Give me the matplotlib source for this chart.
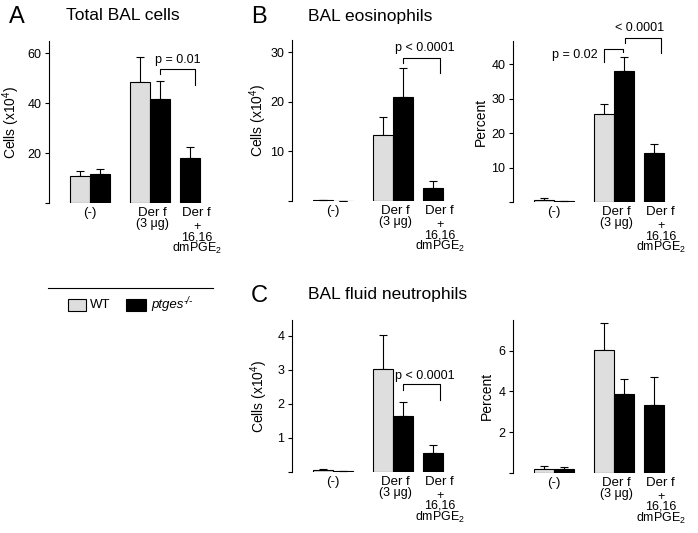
import matplotlib
matplotlib.use("Agg")
import matplotlib.pyplot as plt
from matplotlib.patches import Rectangle
from matplotlib.lines import Line2D

plt.rcParams['font.family'] = ['Liberation Sans', 'DejaVu Sans']
plt.rcParams['mathtext.fontset'] = 'custom'
plt.rcParams['mathtext.rm'] = 'Liberation Sans'
plt.rcParams['mathtext.it'] = 'Liberation Sans:italic'

# bar order: (-) WT, (-) ptges-/-, Der f WT, Der f ptges-/-, Der f + dmPGE2 ptges-/-
x_pos = [0, 1, 3, 4, 5.5]
is_wt = [True, False, True, False, False]

total_cells = [10.9, 11.5, 48.4, 41.7, 18.0]
total_err = [2.0, 2.0, 10.1, 7.1, 4.3]

eos_cells = [0.2, 0.1, 13.3, 20.9, 2.7]
eos_err = [0.1, 0.0, 3.7, 5.9, 1.3]

eos_pct = [0.6, 0.2, 25.6, 38.1, 14.2]
eos_pct_err = [0.6, 0.0, 3.0, 4.1, 2.7]

neu_cells = [0.05, 0.02, 3.02, 1.64, 0.56]
neu_err = [0.03, 0.0, 1.0, 0.42, 0.22]

neu_pct = [0.17, 0.17, 6.04, 3.88, 3.35]
neu_pct_err = [0.16, 0.13, 1.32, 0.72, 1.38]

GREY = '#dedede'
W, H = 698, 533
AX_W = 161  # pixels

fig = plt.figure(figsize=(W / 100, H / 100), dpi=100)


def make_axes(left, zero_y, top_y, ytop, yticks, ylabel, lab_x):
    ax = fig.add_axes([left / W, 1 - zero_y / H, AX_W / W, (zero_y - top_y) / H])
    ax.set_xlim(-1.55, 6.5)
    ax.set_ylim(0, ytop)
    for s in ['top', 'right', 'bottom']:
        ax.spines[s].set_visible(False)
    ax.spines['left'].set_linewidth(0.8)
    ax.set_xticks([])
    ax.set_yticks(yticks)
    ax.set_yticklabels([''] + [str(t) for t in yticks[1:]])
    ax.tick_params(axis='y', direction='out', length=3, width=0.8, labelsize=9, pad=2.5)
    ax.set_ylabel(ylabel, fontsize=10)
    ax.yaxis.set_label_coords(lab_x, 0.5)
    return ax


def draw_bars(ax, vals, errs):
    colors = [GREY if w else 'black' for w in is_wt]
    ax.bar(x_pos, vals, width=1.0, color=colors, edgecolor='black', linewidth=0.8, zorder=2)
    ax.errorbar(x_pos, vals, yerr=[[0] * len(errs), errs], fmt='none', ecolor='black',
                elinewidth=0.8, capsize=3, capthick=0.8, zorder=1)


def xlabels(ax):
    def put(x, s, dy_px, size, **kw):
        ax.annotate(s, xy=(x, 0), xycoords='data', xytext=(0, -dy_px / 1.389),
                    textcoords='offset points', ha='center', va='baseline',
                    fontsize=size, annotation_clip=False, **kw)
    put(0.5, '(-)', 13, 9.5)
    put(3.6, 'Der f', 13, 9.5)
    put(3.6, '(3 \u03bcg)', 24, 9)
    put(5.8, 'Der f', 13, 9.5)
    # multi-line label: baseline refers to the last line
    put(5.85, '+\n16,16\ndmPGE$_2$', 49, 9, linespacing=0.8, multialignment='center')


def bracket(ax, x1, x2, y, y1, y2, label, tx, ty, ha='center'):
    ax.add_line(Line2D([x1, x1, x2, x2], [y1, y, y, y2], color='black', lw=0.8, clip_on=False))
    ax.text(tx, ty, label, ha=ha, va='center', fontsize=9, clip_on=False)


# panel A
axA = make_axes(49, 203, 41, 64.8, [0, 20, 40, 60], 'Cells (x10$^4$)', -0.17)
draw_bars(axA, total_cells, total_err)
xlabels(axA)
bracket(axA, 4.0, 5.75, 53.5, 51.6, 47.2, 'p = 0.01', 4.9, 57.2)

# panel B
axB1 = make_axes(292, 201, 40, 32.5, [0, 10, 20, 30], 'Cells (x10$^4$)', -0.14)
draw_bars(axB1, eos_cells, eos_err)
xlabels(axB1)
bracket(axB1, 4.0, 5.85, 28.9, 27.9, 25.9, 'p < 0.0001', 5.1, 30.9)

axB2 = make_axes(513, 202, 41, 46.8, [0, 10, 20, 30, 40], 'Percent', -0.155)
draw_bars(axB2, eos_pct, eos_pct_err)
xlabels(axB2)
bracket(axB2, 3.0, 3.95, 44.4, 40.7, 43.6, 'p = 0.02', 2.7, 42.7, ha='right')
bracket(axB2, 4.05, 5.85, 47.7, 46.2, 43.3, '< 0.0001', 4.8, 50.6)

# panel C
axC1 = make_axes(292, 471.7, 320, 4.46, [0, 1, 2, 3, 4], 'Cells (x10$^4$)', -0.135)
draw_bars(axC1, neu_cells, neu_err)
xlabels(axC1)
bracket(axC1, 4.0, 5.85, 2.57, 2.40, 2.11, 'p < 0.0001', 5.1, 2.81)

axC2 = make_axes(513, 472.7, 320, 7.52, [0, 2, 4, 6], 'Percent', -0.12)
draw_bars(axC2, neu_pct, neu_pct_err)
xlabels(axC2)


# panel letters and titles
def ftext(xp, yp, s, size, **kw):
    return fig.text(xp / W, 1 - yp / H, s, fontsize=size, ha='left', va='center', **kw)


ftext(9, 17, 'A', 17)
ftext(66, 16, 'Total BAL cells', 12.5)
ftext(251, 17, 'B', 17)
ftext(308, 16, 'BAL eosinophils', 12.5)
ftext(251, 296, 'C', 17)
ftext(308, 295, 'BAL fluid neutrophils', 12.5)

# legend
fig.add_artist(Line2D([48 / W, 213 / W], [1 - 288 / H, 1 - 288 / H], color='black', lw=0.8))
fig.add_artist(Rectangle((68 / W, 1 - 311 / H), 18 / W, 12 / H, facecolor=GREY,
                         edgecolor='black', lw=0.8))
fig.add_artist(Rectangle((126 / W, 1 - 311 / H), 20 / W, 12 / H, facecolor='black',
                         edgecolor='black', lw=0.8))
ftext(90, 305, 'WT', 9.5)
t_pt = ftext(151, 305, 'ptges', 9.5, style='italic')
axA.annotate('-/-', xy=(1, 0.85), xycoords=t_pt, ha='left', va='center', fontsize=7,
             style='italic', annotation_clip=False)

fig.savefig('out.png', dpi=100, facecolor='white')
